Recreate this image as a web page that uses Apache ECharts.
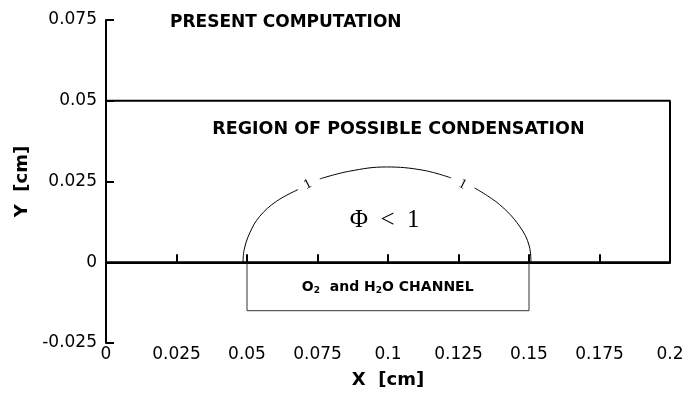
<!DOCTYPE html>
<html><head><meta charset="utf-8">
<script src="https://cdn.jsdelivr.net/npm/echarts@6/dist/echarts.min.js"></script>
<style>html,body{margin:0;padding:0;background:#fff}#c{width:690px;height:394px}</style>
</head><body><div id="c"></div>
<script>
// axis ranges / ticks
const xMin = 0, xMax = 0.2, xStep = 0.025;
const yMin = -0.025, yMax = 0.075, yStep = 0.025;
// region of possible condensation outline
const regionOutline = [[0, 0.05], [0.2, 0.05], [0.2, 0], [0, 0]];
// channel outline
const channelOutline = [[0.05, 0], [0.05, -0.015], [0.15, -0.015], [0.15, 0]];
// Phi = 1 contour (null = label gaps)
const contourX = [0.0486, 0.0490, 0.0510, 0.0545, 0.0605, 0.0681, null, 0.0758, 0.0864, 0.0994, 0.1124, 0.1224, null, 0.1307, 0.1395, 0.1466, 0.1501, 0.1507];
const contourY = [0.0000, 0.0039, 0.0091, 0.0142, 0.0189, 0.0225, null, 0.0258, 0.0282, 0.0295, 0.0285, 0.0261, null, 0.0230, 0.0179, 0.0112, 0.0050, 0.0000];
// contour level labels [x, y, text, rotation]
const levelLabels = [[0.0715, 0.0241, '1', 27], [0.1264, 0.0241, '1', -27]];
// annotations
const regionText = [0.1037, 0.0411, 'REGION OF POSSIBLE CONDENSATION'];
const phiText = [0.0988, 0.0128, 'Φ  <  1'];
const channelText = [0.0999, -0.0078];
const titleText = 'PRESENT COMPUTATION';

const contour = contourX.map((x, i) => x === null ? [null, null] : [x, contourY[i]]);
const fmt = v => String(+v.toFixed(3));
const SANS = 'DejaVu Sans';
const SERIF = 'Liberation Serif, Times New Roman';
const plain = { textBorderWidth: 0, textShadowBlur: 0, opacity: 1 };

const chart = echarts.init(document.getElementById('c'));
chart.setOption({
  animation: false,
  title: { text: titleText, left: 165, top: 9, textStyle: { fontFamily: SANS, fontWeight: 'bold', fontSize: 17, color: '#000' } },
  grid: { left: 106, right: 20, top: 20, bottom: 51, containLabel: false, outerBoundsMode: 'none' },
  xAxis: {
    type: 'value', min: xMin, max: xMax, interval: xStep,
    name: 'X  [cm]', nameLocation: 'middle', nameGap: 28,
    nameTextStyle: { fontFamily: SANS, fontWeight: 'bold', fontSize: 18, color: '#000' },
    axisLine: { show: true, lineStyle: { color: '#000', width: 2 } },
    axisTick: { show: true, inside: true, length: 8, lineStyle: { color: '#000', width: 2 } },
    axisLabel: { formatter: fmt, margin: 3, fontFamily: SANS, fontSize: 17, color: '#000' },
    splitLine: { show: false }
  },
  yAxis: {
    type: 'value', min: yMin, max: yMax, interval: yStep,
    name: 'Y  [cm]', nameLocation: 'middle', nameGap: 74, nameRotate: 90,
    nameTextStyle: { fontFamily: SANS, fontWeight: 'bold', fontSize: 18, color: '#000' },
    axisLine: { show: true, lineStyle: { color: '#000', width: 2 } },
    axisTick: { show: true, inside: true, length: 8, lineStyle: { color: '#000', width: 2 } },
    axisLabel: { formatter: fmt, margin: 9, fontFamily: SANS, fontSize: 17, color: '#000' },
    splitLine: { show: false }
  },
  series: [
    { type: 'line', data: regionOutline, symbol: 'none', lineStyle: { color: '#000', width: 2 }, z: 3 },
    { type: 'line', data: channelOutline, symbol: 'none', lineStyle: { color: '#333', width: 1 }, z: 2 },
    { type: 'line', data: contour, symbol: 'none', smooth: 0.4, connectNulls: false, lineStyle: { color: '#000', width: 1 }, z: 2 },
    { type: 'scatter', symbolSize: 0, silent: true, clip: false, itemStyle: { opacity: 1 },
      data: levelLabels.map(d => ({ value: [d[0], d[1]], label: { rotate: d[3] } })),
      label: Object.assign({ show: true, position: 'inside', formatter: () => '1', fontFamily: SERIF, fontSize: 14, color: '#000' }, plain) },
    { type: 'scatter', symbolSize: 0, silent: true, clip: false, itemStyle: { opacity: 1 },
      data: [
        { value: [regionText[0], regionText[1]], label: Object.assign({ formatter: regionText[2], fontFamily: SANS, fontWeight: 'bold', fontSize: 17.5, color: '#000' }, plain) },
        { value: [phiText[0], phiText[1]], label: Object.assign({ formatter: phiText[2], fontFamily: SERIF, fontSize: 25, color: '#000' }, plain) },
        { value: [channelText[0], channelText[1]], label: Object.assign({
            formatter: '{b|O}{s|2}{b|  and H}{s|2}{b|O CHANNEL}',
            rich: {
              b: { fontFamily: SANS, fontWeight: 'bold', fontSize: 14, color: '#000', textBorderWidth: 0 },
              s: { fontFamily: SANS, fontWeight: 'bold', fontSize: 9, color: '#000', textBorderWidth: 0, verticalAlign: 'bottom', padding: [7, 0, 0, 0] }
            } }, plain) }
      ],
      label: Object.assign({ show: true, position: 'inside', color: '#000' }, plain) }
  ]
});
</script></body></html>
